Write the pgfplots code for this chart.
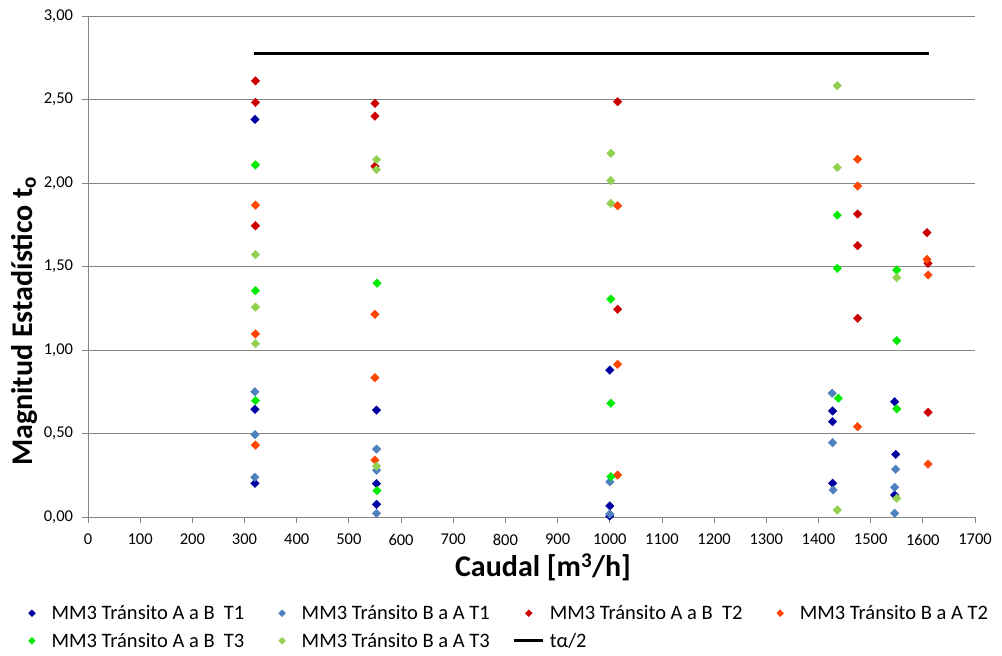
\documentclass[border=0pt]{standalone}
\usepackage{pgfplots}
\pgfplotsset{compat=1.18}
\usepackage{fontspec}
\setmainfont{Carlito}
\definecolor{cT1AB}{RGB}{0,0,160}
\definecolor{cT1BA}{RGB}{79,129,189}
\definecolor{cT2AB}{RGB}{204,0,0}
\definecolor{cT2BA}{RGB}{255,69,0}
\definecolor{cT3AB}{RGB}{0,235,0}
\definecolor{cT3BA}{RGB}{146,208,80}
\definecolor{gridgray}{RGB}{134,134,134}
\pgfplotsset{
  mymarklegend/.style={legend image code/.code={\path (0pt,0pt) (29pt,0pt);
      \draw[mark repeat=2, mark phase=2, ##1, mark size=2.4pt] plot coordinates {(0pt,0pt) (14.5pt,0pt) (29pt,0pt)};}},
  mylinelegend/.style={legend image code/.code={\draw[##1] (0pt,0pt) -- (29pt,0pt);}},
}
\begin{document}
\begin{tikzpicture}
\useasboundingbox (-88pt,-139pt) rectangle (914pt,517pt);
\begin{axis}[
  scale only axis,
  width=887pt, height=501pt,
  xmin=0, xmax=1700, ymin=0, ymax=3,
  xtick distance=100, ytick distance=0.5,
  axis lines*=left,
  axis line style={gridgray, line width=0.8pt},
  ymajorgrids, major grid style={gridgray, line width=0.8pt},
  tick style={gridgray, line width=0.8pt},
  tick align=outside, major tick length=5.5pt,
  /pgf/number format/assume math mode=true,
  x tick label style={/pgf/number format/1000 sep={}, font=\fontsize{16.5}{19}\selectfont, yshift=-8pt},
  y tick label style={/pgf/number format/.cd, fixed, fixed zerofill, precision=2, use comma, /tikz/.cd, font=\fontsize{16.5}{19}\selectfont, xshift=-6pt},
  xlabel={Caudal [m\textsuperscript{3}/h]},
  ylabel={Magnitud Estadístico t\textsubscript{o}},
  xlabel style={font=\bfseries\fontsize{30}{34}\selectfont, at={(axis description cs:0.513,-0.1)}, anchor=center},
  ylabel style={font=\bfseries\fontsize{30}{34}\selectfont, at={(axis description cs:-0.072,0.391)}, anchor=center},
  legend columns=4,
  legend cell align=left,
  legend style={draw=none, inner sep=0pt, at={(axis description cs:-0.080,-0.172)}, anchor=north west,
    font=\fontsize{20.5}{24}\selectfont, row sep=8pt,
    /tikz/every odd column/.append style={column sep=3pt},
    /tikz/every even column/.append style={column sep=21pt}},
  every axis plot/.append style={only marks, mark=square*, mark size=3pt, mark options={rotate=45}, mymarklegend},
]
\addplot[cT1AB] coordinates {
 (320,2.381) (320,0.645) (320,0.202)
 (553,0.640) (553,0.200) (553,0.076)
 (1000,0.880) (1000,0.066) (1000,0.005)
 (1427,0.635) (1427,0.571) (1427,0.202)
 (1546,0.690) (1548,0.375) (1546,0.132)};
\addlegendentry{MM3 Tránsito A a B\ \ T1}
\addplot[cT1BA] coordinates {
 (320,0.750) (320,0.493) (320,0.238)
 (553,0.407) (553,0.280) (553,0.022)
 (1000,0.211) (1000,0.018)
 (1426,0.741) (1427,0.445) (1428,0.162)
 (1548,0.286) (1546,0.178) (1546,0.022)};
\addlegendentry{MM3 Tránsito B a A T1}
\addplot[cT2AB] coordinates {
 (321,2.611) (321,2.483) (321,1.744)
 (550,2.477) (550,2.400) (550,2.100)
 (1015,2.487) (1015,1.244)
 (1475,1.814) (1475,1.625) (1475,1.190)
 (1608,1.703) (1610,1.519) (1610,0.627)};
\addlegendentry{MM3 Tránsito A a B\ \ T2}
\addplot[cT2BA] coordinates {
 (321,1.868) (321,1.096) (321,0.431)
 (550,1.214) (550,0.834) (550,0.341)
 (1015,1.864) (1015,0.914) (1015,0.251)
 (1475,2.142) (1475,1.982) (1475,0.541)
 (1608,1.543) (1610,1.449) (1610,0.317)};
\addlegendentry{MM3 Tránsito B a A T2}
\addplot[cT3AB] coordinates {
 (321,2.108) (321,1.355) (321,0.697)
 (554,1.400) (554,0.158)
 (1002,1.305) (1002,0.681) (1002,0.241)
 (1436,1.808) (1436,1.489) (1438,0.711)
 (1550,1.479) (1550,1.056) (1550,0.647)};
\addlegendentry{MM3 Tránsito A a B\ \ T3}
\addplot[cT3BA] coordinates {
 (321,1.571) (321,1.257) (321,1.038)
 (553,2.140) (553,2.080) (553,0.305)
 (1002,2.178) (1002,2.014) (1002,1.878)
 (1436,2.583) (1436,2.094) (1436,0.042)
 (1550,1.433) (1550,0.112)};
\addlegendentry{MM3 Tránsito B a A T3}
\addplot[black, line width=3pt, no markers, sharp plot, mylinelegend] coordinates {(318,2.776) (1612,2.776)};
\addlegendentry{tα/2}
\end{axis}
\end{tikzpicture}
\end{document}
